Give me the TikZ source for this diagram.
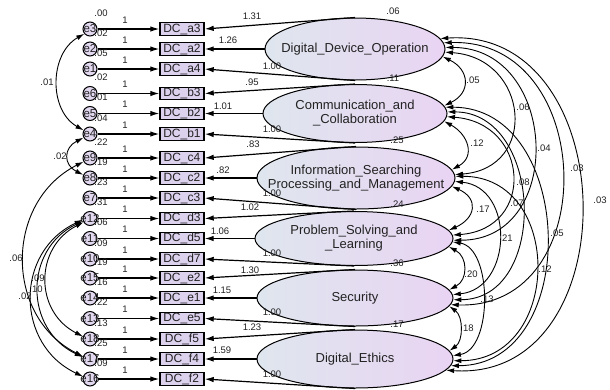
\documentclass[tikz,border=0pt]{standalone}
\usepackage{fontspec}
\setmainfont{Liberation Sans}
\usetikzlibrary{arrows.meta,shapes.geometric}
\definecolor{boxfill}{HTML}{DDD2EE}
\definecolor{errfill}{HTML}{E2D8F0}
\definecolor{latL}{HTML}{DFE6EE}
\definecolor{latR}{HTML}{E9D4F3}
\definecolor{txt}{HTML}{222222}
\begin{document}
\begin{tikzpicture}[x=1pt,y=-1pt,
 obsbox/.style={draw, line width=1.4pt, fill=boxfill, minimum width=44pt, minimum height=12.5pt, inner sep=0pt, font=\fontsize{12}{12}\selectfont, text=txt},
 errcirc/.style={circle, draw, line width=1pt, fill=errfill, minimum size=14pt, inner sep=0pt},
 errtext/.style={font=\fontsize{11.5}{11.5}\selectfont, text=txt, inner sep=0pt},
 latell/.style={ellipse, draw, line width=1pt, left color=latL, right color=latR, inner sep=0pt},
 lattext/.style={font=\fontsize{13}{14}\selectfont, align=center, text=txt, inner sep=0pt},
 numlab/.style={font=\fontsize{9.5}{9.5}\selectfont, inner sep=0pt, text=txt},
 ldarrow/.style={-{Latex[length=9pt,width=5.5pt]}, line width=1.2pt},
 covarc/.style={{Latex[length=8pt,width=5pt]}-{Latex[length=8pt,width=5pt]}, line width=0.9pt},
]
\useasboundingbox (0,0) rectangle (610,389);

% observed variables and error terms
\foreach \bx/\er/\yy/\vr in {a3/e3/29/.00, a2/e2/49/.02, a4/e1/69/.05, b3/e6/93.5/.02, b2/e5/113.5/.01, b1/e4/134/.04, c4/e9/158/.22, c2/e8/178/.19, c3/e7/198/.23, d3/e12/218.5/.31, d5/e11/238.5/.06, d7/e10/259/.09, e2/e15/278/.19, e1/e14/298/.16, e5/e13/318.5/.22, f5/e18/339/.13, f4/e17/359/.25, f2/e16/379/.09}{
  \node[obsbox] (B\bx) at (182,\yy) {DC\_\bx};
  \node[errcirc] (E\er) at (90,\yy) {};
  \node[errtext] (T\er) at (E\er) {\er};
  \draw[ldarrow] (E\er) -- (B\bx);
  \node[numlab] (V\er) at (101,\yy-16) {\vr};
  \node[numlab] (O\er) at (125,\yy-9) {1};
}

% latent variables
\node[latell, minimum width=180pt, minimum height=62pt] (F1) at (355,49) {};
\node[lattext] (F1t) at (F1) {Digital\_Device\_Operation};
\node[latell, minimum width=184pt, minimum height=58pt] (F2) at (355,113.5) {};
\node[lattext] (F2t) at (F2) {Communication\_and\\\_Collaboration};
\node[latell, minimum width=198pt, minimum height=62pt] (F3) at (356,178) {};
\node[lattext] (F3t) at (F3) {Information\_Searching\\Processing\_and\_Management};
\node[latell, minimum width=198pt, minimum height=54pt] (F4) at (354,238.5) {};
\node[lattext] (F4t) at (F4) {Problem\_Solving\_and\\\_Learning};
\node[latell, minimum width=196pt, minimum height=56pt] (F5) at (355,298) {};
\node[lattext] (F5t) at (F5) {Security};
\node[latell, minimum width=196pt, minimum height=58pt] (F6) at (355,359) {};
\node[lattext] (F6t) at (F6) {Digital\_Ethics};

% loadings
\foreach \f/\ba/\bb/\bc in {1/a3/a2/a4, 2/b3/b2/b1, 3/c4/c2/c3, 4/d3/d5/d7, 5/e2/e1/e5, 6/f5/f4/f2}{
  \draw[ldarrow] (F\f.north) -- (B\ba.east);
  \draw[ldarrow] (F\f.west) -- (B\bb.east);
  \draw[ldarrow] (F\f.south) -- (B\bc.east);
}
\foreach \lab/\lx/\ly [count=\k] in {1.31/252/16, 1.26/228/40, 1.00/272/66, .95/252/82, 1.01/223/106, 1.00/272/129, .83/253/144, .82/223/170, 1.00/272/193, 1.02/250/207, 1.06/220/231, 1.00/272/253, 1.30/250/270, 1.15/222/290, 1.00/272/312, 1.23/252/327, 1.59/222/350, 1.00/272/374}{
  \node[numlab] (L\k) at (\lx,\ly) {\lab};
}

% latent variances
\foreach \lab/\lx/\ly [count=\k] in {.06/393/11, .11/393/78, .25/397/140, .24/397/204, .36/397/263, .17/397/324}{
  \node[numlab] (R\k) at (\lx,\ly) {\lab};
}

% covariances between latent variables
\foreach \ia/\ib/\hh/\cc/\lab/\lx/\ly in {1/2/27/13/.05/473/80, 1/3/84/6/.06/523/107, 1/4/113/0/.04/544/148, 1/5/153/-5/.03/577/168, 1/6/184/-12/.03/600/200, 2/3/24/13/.12/477/143, 2/4/83/6/.08/523/182, 2/5/96/0/.07/517/203, 2/6/131/0/.05/557/233, 3/4/27/12/.17/483/209, 3/5/60/6/.21/506/238, 3/6/109/0/.12/545/269, 4/5/19/10/.20/471/274, 4/6/40/6/.13/487/299, 5/6/14/10/.18/467/328}{
  \pgfmathtruncatemacro\ta{-8+3*(\ib-\ia)}
  \pgfmathtruncatemacro\tb{8-3*(\ib-\ia)}
  \pgfmathsetmacro\nc{-\cc}
  \draw[covarc] (F\ia.\ta) .. controls +(\hh,\cc) and +(\hh,\nc) .. (F\ib.\tb);
  \node[numlab] (C\ia\ib) at (\lx,\ly) {\lab};
}

% covariances between error terms
\draw[covarc] (Ee3.220) .. controls +(-35,20) and +(-35,-20) .. (Ee4.150);
\node[numlab] (Ce3) at (47,82) {.01};
\draw[covarc] (Ee4.210) .. controls +(-20,10) and +(-20,-10) .. (Ee8.155);
\node[numlab] (Ce4) at (60,156) {.02};
\draw[covarc] (Ee9.210) .. controls +(-79,40) and +(-79,-40) .. (Ee17.160);
\node[numlab] (Ce9) at (16,258) {.06};
\draw[covarc] (Ee12.210) .. controls +(-49,25) and +(-49,-25) .. (Ee18.160);
\node[numlab] (Ce12a) at (38,278) {.09};
\draw[covarc] (Ee12.200) .. controls +(-59,28) and +(-59,-28) .. (Ee17.165);
\node[numlab] (Ce12b) at (36,289) {.10};
\draw[covarc] (Ee12.190) .. controls +(-68,32) and +(-68,-32) .. (Ee16.160);
\node[numlab] (Ce12c) at (25,296) {.02};
\end{tikzpicture}
\end{document}
